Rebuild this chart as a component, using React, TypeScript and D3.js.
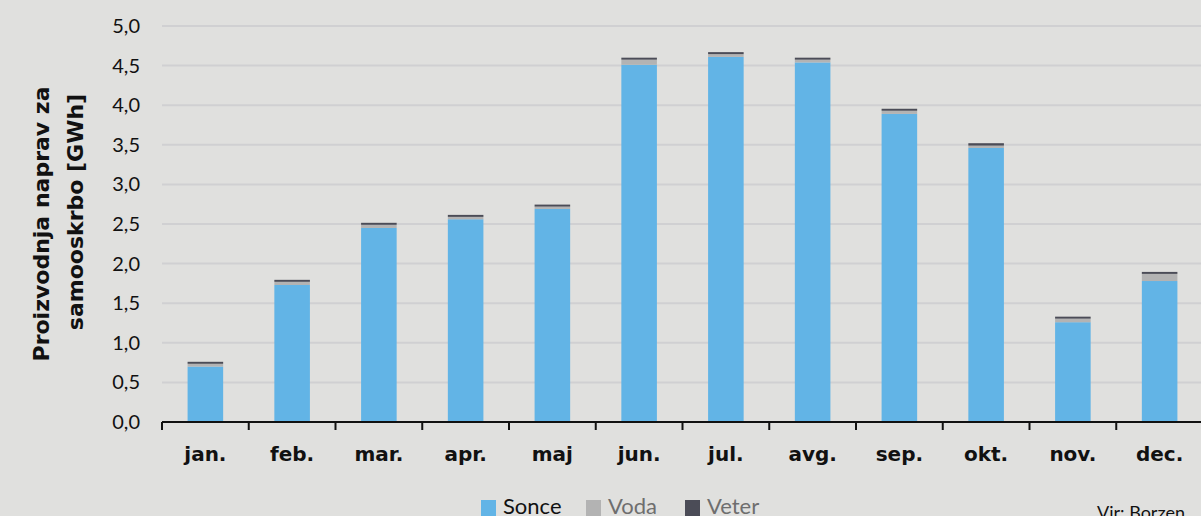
import React from "react";
import * as d3 from "d3";

const months = ["jan.", "feb.", "mar.", "apr.", "maj", "jun.", "jul.", "avg.", "sep.", "okt.", "nov.", "dec."];
const sonce = [0.70, 1.73, 2.45, 2.56, 2.69, 4.51, 4.61, 4.54, 3.89, 3.46, 1.26, 1.78];
const voda = [0.035, 0.04, 0.04, 0.03, 0.03, 0.065, 0.035, 0.035, 0.04, 0.03, 0.045, 0.09];
const veter = [0.025, 0.025, 0.025, 0.025, 0.025, 0.025, 0.025, 0.025, 0.025, 0.03, 0.025, 0.025];
const yTicks = [0, 0.5, 1, 1.5, 2, 2.5, 3, 3.5, 4, 4.5, 5];
const seriesNames = ["Sonce", "Voda", "Veter"];
const colors = ["#62b4e6", "#b3b3b3", "#4b4c57"];
const legendText = ["#111", "#6e6e6e", "#6e6e6e"];

const W = 1201, H = 516;
const left = 162, right = 1203, top = 26, bottom = 422;
const FONT = "Lato, 'Noto Sans', sans-serif";
const BOLD = "'DejaVu Sans', sans-serif";

export default function App() {
  const x = d3.scaleBand<string>().domain(months).range([left, right]).paddingInner(0.59).paddingOuter(0.295);
  const xStep = d3.scaleBand<string>().domain(months).range([left, right]);
  const y = d3.scaleLinear().domain([0, 5]).range([bottom, top]);
  const rows = months.map((m, i) => ({ m, Sonce: sonce[i], Voda: voda[i], Veter: veter[i] }));
  const stacked = d3.stack<any>().keys(seriesNames)(rows);
  const fmt = (v: number) => v.toFixed(1).replace(".", ",");

  const legendX = [481, 586, 685];

  return (
    <svg width={W} height={H} style={{ position: "absolute", left: 0, top: 0, background: "#e0e0de" }}>
      <rect x={0} y={0} width={W} height={H} fill="#e0e0de" />
      {yTicks.map((t) => (
        <g key={t}>
          {t > 0 && <line x1={left} x2={W} y1={y(t)} y2={y(t)} stroke="#d0d0d2" strokeWidth={2} />}
          <text x={140} y={y(t)} dy="0.35em" textAnchor="end" fontFamily={FONT} fontSize={20} fill="#111">
            {fmt(t)}
          </text>
        </g>
      ))}
      {stacked.map((s, si) => (
        <g key={si} fill={colors[si]}>
          {s.map((d, i) => (
            <rect key={i} x={x(months[i])} width={x.bandwidth()} y={y(d[1])} height={y(d[0]) - y(d[1])} />
          ))}
        </g>
      ))}
      <line x1={left} x2={W} y1={bottom} y2={bottom} stroke="#111" strokeWidth={2} />
      {months.map((m, i) => (
        <line key={"t" + i} x1={xStep(m)} x2={xStep(m)} y1={bottom} y2={bottom + 8} stroke="#111" strokeWidth={2} />
      ))}
      {months.map((m) => (
        <text key={m} x={x(m)! + x.bandwidth() / 2} y={461} textAnchor="middle" fontFamily={BOLD} fontWeight="bold" fontSize={20} fill="#111">
          {m}
        </text>
      ))}
      <g transform="rotate(-90)">
        <text x={-224} y={49} textAnchor="middle" fontFamily={BOLD} fontWeight="bold" fontSize={22} fill="#111">
          Proizvodnja naprav za
        </text>
        <text x={-212} y={83} textAnchor="middle" fontFamily={BOLD} fontWeight="bold" fontSize={22} fill="#111">
          samooskrbo [GWh]
        </text>
      </g>
      {seriesNames.map((n, i) => (
        <g key={n}>
          <rect x={legendX[i]} y={500} width={15} height={16} fill={colors[i]} />
          <text x={legendX[i] + 22} y={514} fontFamily={FONT} fontSize={22} fill={legendText[i]}>
            {n}
          </text>
        </g>
      ))}
      <text x={1097} y={519} fontFamily={FONT} fontSize={18} fill="#111">
        Vir: Borzen
      </text>
    </svg>
  );
}
